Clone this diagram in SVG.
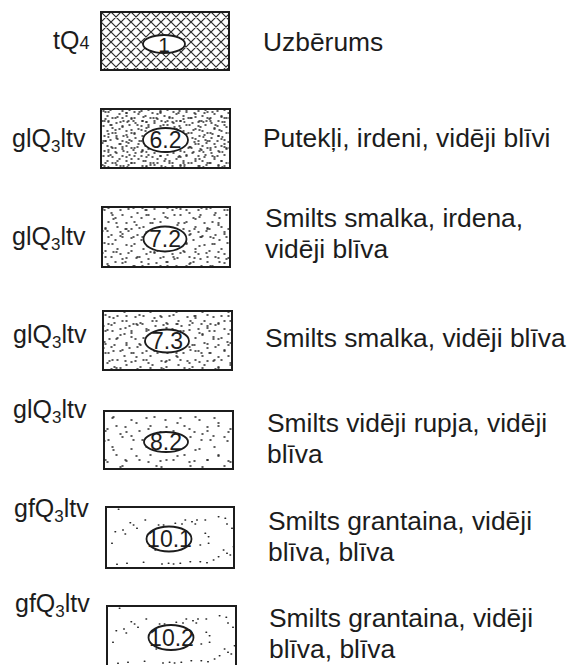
<svg xmlns="http://www.w3.org/2000/svg" width="569" height="665" viewBox="0 0 569 665">
  <defs>
    <style>
      .lbl { font-family: "Liberation Sans", Arial, sans-serif; font-size: 25px; fill: #1c1c1c; }
      .sub { font-size: 17px; }
      .desc { font-family: "Liberation Sans", Arial, sans-serif; font-size: 26.4px; fill: #1c1c1c; }
      .num { font-family: "Liberation Sans", Arial, sans-serif; font-size: 23px; fill: #1c1c1c; text-anchor: middle; }
      .box { fill: none; stroke: #1c1c1c; stroke-width: 2; }
      .ell { fill: #fff; stroke: #1c1c1c; stroke-width: 1.8; }
      .dots { fill: none; stroke: #2a2a2a; stroke-width: 1.5; stroke-linecap: round; }
    </style>
    <!-- cross-hatch for fill material -->
    <pattern id="hatch" width="10" height="10" patternUnits="userSpaceOnUse" patternTransform="translate(101 12)">
      <path d="M0 0L10 10M10 0L0 10M-1 9L1 11M9 -1L11 1M-1 1L1 -1M9 11L11 9" stroke="#2a2a2a" stroke-width="1.2" fill="none"/>
    </pattern>
    <!-- stipple tiles of different sizes, layered for an irregular look -->
    <pattern id="stA" width="19" height="15" patternUnits="userSpaceOnUse">
      <path class="dots" d="M2 3h1M9 1h1M15 5h1M5 9h1M12 11h1M17 13h1M1 13h1M8 6h1M13 2h0.8"/>
    </pattern>
    <pattern id="stB" width="26" height="22" patternUnits="userSpaceOnUse">
      <path class="dots" d="M4 2h1M13 7h1M22 3h1M7 15h1M18 17h1M24 11h1M1 9h1M11 20h1M16 12h1"/>
    </pattern>
    <pattern id="stB2" width="26" height="22" patternUnits="userSpaceOnUse" patternTransform="translate(9 6)">
      <path class="dots" d="M4 2h1M13 7h1M22 3h1M7 15h1M18 17h1M24 11h1M1 9h1M11 20h1M16 12h1"/>
    </pattern>
    <pattern id="stC" width="34" height="29" patternUnits="userSpaceOnUse">
      <path class="dots" d="M6 5h1M20 2h1M29 14h1M14 20h1M3 25h1M24 26h1M10 12h1M31 5h1"/>
    </pattern>
    <pattern id="stD" width="41" height="33" patternUnits="userSpaceOnUse" patternTransform="translate(5 3)">
      <path class="dots" d="M3 4h1M17 9h1M33 2h1M26 18h1M8 24h1M38 28h1M20 30h1"/>
    </pattern>
    <!-- sparse gravelly sand speckle, relative to box corner -->
    <g id="sparse">
      <path class="dots" stroke-width="1.6" d="M12.3 2.3h.6M24 15.7h.6M27.3 18h.6M9 24.7h.6M16.7 23h.6M19 27h.6M30.7 21.3h.6M39 13h.6M52.3 18h.6M57.3 18h.6M69 16.3h.6M75.7 17h.6M79 13h.6M85.7 14.7h.6M89 17h.6M90.7 13h.6M99 13h.6M112.3 9.7h.6M119 11.3h.6M120.7 17h.6M125.7 21.3h.6M99 26.3h.6M102.3 29.7h.6M102.3 36.3h.6M94 38h.6M79 39.7h.6M49 43h.6M5.7 36.3h.6M117.3 43h.6M120.7 46.3h.6M124 48h.6M112.3 49.7h.6M107.3 53h.6M100.7 55.7h.6M94 54.7h.6M84 54.7h.6M74 56.3h.6M67.3 57h.6M62.3 56.3h.6M55.7 57h.6M37.3 55.3h.6M20.7 56.3h.6M10.7 57.3h.6M127.3 39.7h.6"/>
    </g>
  </defs>

  <g id="layer-1">
    <text class="lbl" x="53" y="49">tQ<tspan style="font-size:18px">4</tspan></text>
    <rect x="101" y="12" width="128" height="58" fill="url(#hatch)"/>
    <rect class="box" x="101" y="12" width="128" height="58"/>
    <ellipse class="ell" cx="164" cy="44" rx="21" ry="9"/>
    <text class="num" x="164" y="51.5" style="font-size:21px">1</text>
    <text class="desc" x="263" y="51">Uzbērums</text>
  </g>

  <g id="layer-6-2">
    <text class="lbl" x="12" y="147">glQ<tspan class="sub" dy="5">3</tspan><tspan dy="-5">ltv</tspan></text>
    <rect x="101" y="109" width="129" height="59" fill="url(#stA)"/>
    <rect x="101" y="109" width="129" height="59" fill="url(#stB)"/>
    <rect x="101" y="109" width="129" height="59" fill="url(#stC)"/>
    <rect class="box" x="101" y="109" width="129" height="59"/>
    <ellipse class="ell" cx="165.5" cy="140" rx="22.5" ry="12"/>
    <text class="num" x="165.5" y="148.2">6.2</text>
    <text class="desc" x="263" y="147">Putekļi, irdeni, vidēji blīvi</text>
  </g>

  <g id="layer-7-2">
    <text class="lbl" x="12" y="245">glQ<tspan class="sub" dy="5">3</tspan><tspan dy="-5">ltv</tspan></text>
    <rect x="102" y="207" width="128" height="60" fill="url(#stB)"/>
    <rect x="102" y="207" width="128" height="60" fill="url(#stC)"/>
    <rect x="102" y="207" width="128" height="60" fill="url(#stD)"/>
    <rect class="box" x="102" y="207" width="128" height="60"/>
    <ellipse class="ell" cx="165" cy="239" rx="21.5" ry="12.5"/>
    <text class="num" x="165" y="247.2">7.2</text>
    <text class="desc" x="265" y="227">Smilts smalka, irdena,</text>
    <text class="desc" x="265" y="258">vidēji blīva</text>
  </g>

  <g id="layer-7-3">
    <text class="lbl" x="13" y="343">glQ<tspan class="sub" dy="5">3</tspan><tspan dy="-5">ltv</tspan></text>
    <rect x="103" y="311" width="129" height="59" fill="url(#stB2)"/>
    <rect x="103" y="311" width="129" height="59" fill="url(#stC)"/>
    <rect x="103" y="311" width="129" height="59" fill="url(#stD)"/>
    <rect class="box" x="103" y="311" width="129" height="59"/>
    <ellipse class="ell" cx="167" cy="341" rx="22" ry="11.5"/>
    <text class="num" x="167" y="349.2">7.3</text>
    <text class="desc" x="265" y="347">Smilts smalka, vidēji blīva</text>
  </g>

  <g id="layer-8-2">
    <text class="lbl" x="13" y="418">glQ<tspan class="sub" dy="5">3</tspan><tspan dy="-5">ltv</tspan></text>
    <rect x="104" y="411" width="129" height="58" fill="url(#stC)"/>
    <rect x="104" y="411" width="129" height="58" fill="url(#stD)"/>
    <rect class="box" x="104" y="411" width="129" height="58"/>
    <ellipse class="ell" cx="166" cy="442" rx="22" ry="10"/>
    <text class="num" x="166" y="450.2">8.2</text>
    <text class="desc" x="267" y="432">Smilts vidēji rupja, vidēji</text>
    <text class="desc" x="267" y="463">blīva</text>
  </g>

  <g id="layer-10-1">
    <text class="lbl" x="14" y="517">gfQ<tspan class="sub" dy="5">3</tspan><tspan dy="-5">ltv</tspan></text>
    <use href="#sparse" x="106" y="507"/>
    <rect class="box" x="106" y="507" width="128" height="61"/>
    <ellipse class="ell" cx="169" cy="539" rx="22.5" ry="12.5"/>
    <text class="num" x="169.5" y="547.2">10.1</text>
    <text class="desc" x="268" y="530">Smilts grantaina, vidēji</text>
    <text class="desc" x="268" y="561">blīva, blīva</text>
  </g>

  <g id="layer-10-2">
    <text class="lbl" x="15" y="612">gfQ<tspan class="sub" dy="5">3</tspan><tspan dy="-5">ltv</tspan></text>
    <use href="#sparse" x="107" y="606"/>
    <rect class="box" x="107" y="606" width="129" height="62"/>
    <ellipse class="ell" cx="171" cy="637.5" rx="22.5" ry="12.5"/>
    <text class="num" x="171.5" y="645.7">10.2</text>
    <text class="desc" x="269" y="627">Smilts grantaina, vidēji</text>
    <text class="desc" x="269" y="658">blīva, blīva</text>
  </g>

  <g id="connectors"/>
</svg>
